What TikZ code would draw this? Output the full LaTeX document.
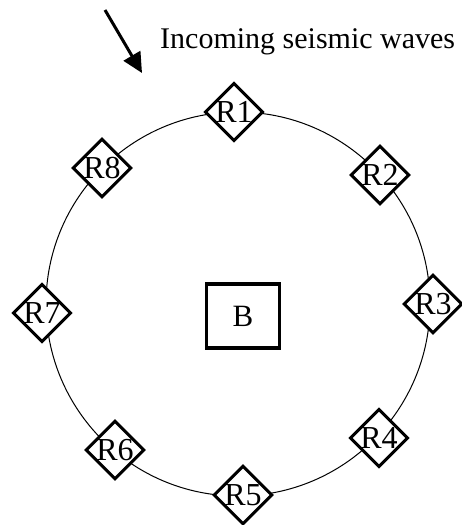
\documentclass[tikz,border=0pt]{standalone}
\usepackage{fontspec}
\setmainfont{Liberation Serif}
\usetikzlibrary{shapes.geometric,arrows.meta}
\tikzset{
  recv/.style={draw, diamond, line width=3pt, fill=white, minimum width=58pt, minimum height=58pt, inner sep=0pt, font=\fontsize{32}{32}\selectfont},
  basebox/.style={draw, rectangle, line width=3.3pt, minimum width=73pt, minimum height=64pt, inner sep=0pt, font=\fontsize{31}{31}\selectfont},
  ring/.style={line width=1pt},
  wavearrow/.style={line width=3pt, -{Triangle[length=20pt,width=19pt]}}
}
\begin{document}
\begin{tikzpicture}[x=1pt,y=-1pt]
\useasboundingbox (0,0) rectangle (461,525);
\coordinate (C) at (238,304);
\draw[ring] (C) circle[radius=192pt];
\node[basebox] (B) at (243,316) {B};
\node[recv] (R1) at (234,112) {R1};
\node[recv] (R2) at (380,175) {R2};
\node[recv] (R3) at (433,304) {R3};
\node[recv] (R4) at (379,438) {R4};
\node[recv] (R5) at (243,495) {R5};
\node[recv] (R6) at (115,450) {R6};
\node[recv] (R7) at (42,313) {R7};
\node[recv] (R8) at (102,168) {R8};
\node[anchor=base west, inner sep=0pt, font=\fontsize{30}{30}\selectfont] (T) at (160,48) {Incoming seismic waves};
\coordinate (A0) at (105,10);
\coordinate (A1) at (142,73);
\draw[wavearrow] (A0) -- (A1);
\end{tikzpicture}
\end{document}
